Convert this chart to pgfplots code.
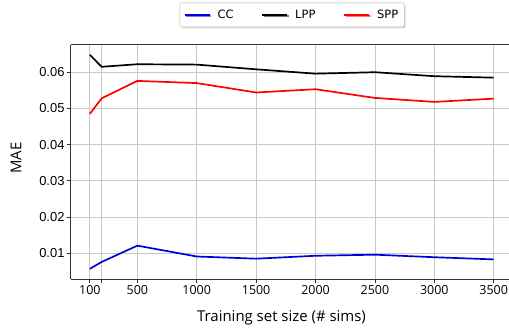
\documentclass[border=0pt]{standalone}
\usepackage{fontspec}
\setmainfont{Liberation Sans}
\newfontfamily\xfont{Open Sans}
\newfontfamily\legfont{DejaVu Sans}
\usepackage{pgfplots}
\pgfplotsset{compat=1.18}
\usetikzlibrary{shadows}
\definecolor{ccblue}{RGB}{0,0,220}
\definecolor{lppblack}{RGB}{0,0,0}
\definecolor{sppred}{RGB}{255,0,0}
\definecolor{gridgray}{RGB}{200,200,200}
\definecolor{spine}{RGB}{50,50,50}
\begin{document}
\begin{tikzpicture}
\begin{axis}[
  name=ax,
  scale only axis,
  width=438.3bp, height=234.6bp,
  xmin=-61, xmax=3629,
  ymin=0.0028, ymax=0.0676,
  axis lines=left,
  axis line style={-, spine, line width=0.8pt},
  tick align=outside,
  major tick length=4bp,
  tick style={spine, line width=0.7pt},
  xtick={100,200,500,1000,1500,2000,2500,3000,3500},
  xticklabels={100,,500,1000,1500,2000,2500,3000,3500},
  ytick={0.01,0.02,0.03,0.04,0.05,0.06},
  /pgf/number format/assume math mode=true,
  yticklabel style={/pgf/number format/fixed, /pgf/number format/precision=2, /pgf/number format/fixed zerofill, font=\fontsize{13}{15}\selectfont, inner sep=2bp},
  xticklabel style={font=\xfont\fontsize{12.5}{15}\selectfont, inner sep=2bp},
  scaled y ticks=false,
  grid=major,
  major grid style={gridgray, line width=0.8pt},
  ylabel={MAE},
  xlabel={Training set size (\# sims)},
  every axis y label/.style={at={(rel axis cs:0,0.517)}, anchor=center, xshift=-54.7bp, rotate=90, font=\xfont\fontsize{15}{17}\selectfont},
  every axis x label/.style={at={(rel axis cs:0.481,0)}, anchor=base, yshift=-42.4bp, font=\xfont\fontsize{15}{18}\selectfont},
  legend columns=3,
  legend style={at={(rel axis cs:0.505,1)}, anchor=south, yshift=17.7bp,
    draw=gray!60, rounded corners=1.5pt, fill=white, drop shadow={shadow xshift=1.5pt, shadow yshift=-1.5pt, fill=gray!60},
    font=\legfont\fontsize{11.5}{13}\selectfont, inner xsep=4bp, inner ysep=5bp,
    /tikz/every odd column/.append style={column sep=5bp},
    /tikz/every even column/.append style={column sep=26bp}},
  legend image code/.code={\draw[#1] (0bp,0bp) -- (25bp,0bp);},
  every axis plot/.append style={line width=1.7pt},
]
\addplot[ccblue, no markers] coordinates {(100,0.0057) (200,0.0076) (500,0.0121) (1000,0.0091) (1500,0.0085) (2000,0.0093) (2500,0.0096) (3000,0.0089) (3500,0.0083)};
\addlegendentry{CC}
\addplot[lppblack, no markers] coordinates {(100,0.0648) (200,0.0615) (500,0.0622) (1000,0.0621) (1500,0.0608) (2000,0.0596) (2500,0.0600) (3000,0.0589) (3500,0.0585)};
\addlegendentry{LPP}
\addplot[sppred, no markers] coordinates {(100,0.0485) (200,0.0528) (500,0.0576) (1000,0.0570) (1500,0.0544) (2000,0.0553) (2500,0.0529) (3000,0.0518) (3500,0.0527)};
\addlegendentry{SPP}
\draw[spine, line width=0.8pt] (rel axis cs:0,1) -- (rel axis cs:1,1);
\end{axis}
\pgfresetboundingbox
\path ([shift={(-70.7bp,-52.7bp)}]ax.south west) rectangle ([shift={(0bp,44.7bp)}]ax.north east);
\end{tikzpicture}
\end{document}
